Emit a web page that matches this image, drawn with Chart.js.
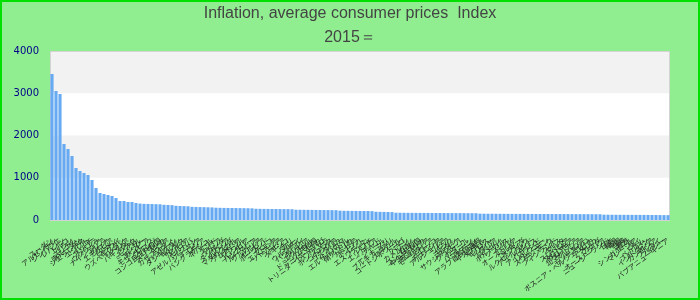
<!DOCTYPE html>
<html>
<head>
<meta charset="utf-8">
<script src="https://cdn.jsdelivr.net/npm/chart.js@4"></script>
<style>
  body { margin: 0; }
  #wrap { width: 700px; height: 300px; }
</style>
</head>
<body>
<div id="wrap"><canvas id="inflation"></canvas></div>
<script>
const countries = [
  "スーダン", "アルゼンチン", "ジンバブエ", "レバノン", "トルコ", "イラン", "スリナム", "南スーダン",
  "シエラレオネ", "エジプト", "ハイチ", "アンゴラ", "ウクライナ", "ナイジェリア", "ガーナ", "エチオピア",
  "イエメン", "マラウイ", "ウズベキスタン", "リベリア", "パキスタン", "ラオス", "モンゴル", "ミャンマー",
  "ザンビア", "モザンビーク", "ブルンジ", "コンゴ民主共和国", "スリランカ", "ギニア", "カザフスタン", "ベラルーシ",
  "タジキスタン", "キルギス", "ガンビア", "モルドバ", "アゼルバイジャン", "ジョージア", "ロシア", "バングラデシュ",
  "ネパール", "インド", "ケニア", "ウガンダ", "タンザニア", "ルワンダ", "マダガスカル", "アルメニア",
  "ブラジル", "コロンビア", "ハンガリー", "ルーマニア", "ブルガリア", "セルビア", "ポーランド", "チェコ",
  "エストニア", "リトアニア", "ラトビア", "メキシコ", "チリ", "ペルー", "ウルグアイ", "パラグアイ",
  "ボリビア", "エクアドル", "ドミニカ共和国", "ジャマイカ", "トリニダード・トバゴ", "グアテマラ", "ホンジュラス", "ニカラグア",
  "コスタリカ", "パナマ", "エルサルバドル", "南アフリカ", "ナミビア", "ボツワナ", "レソト", "エスワティニ",
  "ジブチ", "エリトリア", "チャド", "ニジェール", "マリ", "ブルキナファソ", "セネガル", "コートジボワール",
  "トーゴ", "ベナン", "カメルーン", "ガボン", "コンゴ共和国", "中央アフリカ", "赤道ギニア", "モーリタニア",
  "モロッコ", "チュニジア", "アルジェリア", "リビア", "イラク", "ヨルダン", "サウジアラビア", "クウェート",
  "カタール", "バーレーン", "オマーン", "アラブ首長国連邦", "イスラエル", "キプロス", "ギリシャ", "イタリア",
  "スペイン", "ポルトガル", "フランス", "ドイツ", "オーストリア", "ベルギー", "オランダ", "ルクセンブルク",
  "アイルランド", "イギリス", "アイスランド", "ノルウェー", "スウェーデン", "デンマーク", "フィンランド", "スイス",
  "マルタ", "スロベニア", "スロバキア", "クロアチア", "北マケドニア", "アルバニア", "モンテネグロ", "ボスニア・ヘルツェゴビナ",
  "アメリカ", "カナダ", "オーストラリア", "ニュージーランド", "日本", "韓国", "中国", "台湾",
  "香港", "シンガポール", "マレーシア", "タイ", "ベトナム", "フィリピン", "インドネシア", "カンボジア",
  "ブルネイ", "フィジー", "パプアニューギニア"
];

const indexValues = [
  3456, 3053, 2982, 1799, 1680, 1515, 1231, 1160, 1112, 1065, 947, 757, 639, 615, 592, 568,
  521, 450, 450, 426, 426, 402,
  388, 383, 380, 378, 375, 372,
  360, 356, 352,
  336, 332, 328, 325,
  312, 309, 306, 304, 301, 298,
  290, 288, 286, 285, 284, 283, 281, 280, 278, 276,
  266, 264, 263, 262, 261, 260, 259, 258, 257, 255,
  243, 242, 241, 240, 239, 238, 237, 236, 235, 234, 232,
  220, 218, 217, 216, 215, 214, 213, 212, 210,
  195, 193, 191, 189, 187,
  172, 171, 170, 170, 169, 168, 168, 167, 167, 166, 166, 165, 165, 164, 164, 163, 163, 162, 162, 161, 160,
  150, 149, 148, 148, 147, 147, 146, 146, 145, 145, 145, 144, 144, 143, 143, 143, 142, 142, 141, 141,
  141, 140, 140, 139, 139, 139, 138, 138, 137, 137, 136,
  126, 125, 124, 124, 123, 123, 122, 122, 121, 121, 120, 120, 119, 118, 117, 116, 115
];

const yTicks = [0, 1000, 2000, 3000, 4000];
const titleLines = ["Inflation, average consumer prices  Index", "2015＝"];

// green page, alternating grey/white bands behind the bars, plot frame
const backdrop = {
  id: "backdrop",
  beforeDraw(chart) {
    const { ctx, chartArea: a, scales } = chart;
    ctx.save();
    ctx.fillStyle = "#90ee90";
    ctx.fillRect(0, 0, chart.width, chart.height);
    ctx.strokeStyle = "#00e000";
    ctx.lineWidth = 2;
    ctx.strokeRect(1, 1, chart.width - 2, chart.height - 2);

    ctx.fillStyle = "#ffffff";
    ctx.fillRect(a.left, a.top, a.right - a.left, a.bottom - a.top);
    ctx.fillStyle = "#f2f2f2";
    for (let i = 1; i + 1 < yTicks.length; i += 2) {
      const yTop = scales.y.getPixelForValue(yTicks[i + 1]);
      const yBot = scales.y.getPixelForValue(yTicks[i]);
      ctx.fillRect(a.left, yTop, a.right - a.left, yBot - yTop);
    }
    ctx.strokeStyle = "#d4d4d4";
    ctx.lineWidth = 1;
    ctx.strokeRect(a.left + 0.5, a.top + 0.5, a.right - a.left - 1, a.bottom - a.top);
    ctx.restore();
  }
};

const ctx = document.getElementById("inflation").getContext("2d");
new Chart(ctx, {
  type: "bar",
  data: {
    labels: countries,
    datasets: [
      {
        data: indexValues,
        backgroundColor: "#66aaf2",
        borderWidth: 0,
        categoryPercentage: 1,
        barPercentage: 0.78,
      },
    ],
  },
  options: {
    responsive: true,
    maintainAspectRatio: false,
    animation: false,
    layout: { padding: 0 },
    plugins: {
      legend: { display: false },
      tooltip: { enabled: false },
      title: {
        display: true,
        text: titleLines,
        color: "#444",
        font: { family: "'Liberation Sans', Arial, sans-serif", size: 16, weight: "normal", lineHeight: 1.5 },
        padding: { top: 2, bottom: 1 },
      },
    },
    scales: {
      x: {
        grid: { display: false },
        border: { display: false },
        ticks: {
          autoSkip: false,
          minRotation: 37,
          maxRotation: 37,
          padding: 8,
          color: "#222",
          font: { family: "'Noto Sans CJK JP', sans-serif", size: 7 },
        },
        afterFit(scale) {
          scale.height = 80;
        },
      },
      y: {
        min: 0,
        max: 4000,
        grid: { display: false },
        border: { display: false },
        afterBuildTicks(scale) {
          scale.ticks = yTicks.map((v) => ({ value: v }));
        },
        ticks: {
          padding: 3,
          color: "#00008b",
          font: { family: "'DejaVu Sans', sans-serif", size: 10 },
          callback: (value) => String(value),
        },
        afterFit(scale) {
          scale.width = 50;
        },
      },
      // empty right-hand axis, only keeps the plot 30px off the right edge
      yRight: {
        position: "right",
        grid: { display: false },
        border: { display: false },
        ticks: { display: false },
        afterFit(scale) {
          scale.width = 30;
        },
      },
    },
  },
  plugins: [backdrop],
});
</script>
</body>
</html>
